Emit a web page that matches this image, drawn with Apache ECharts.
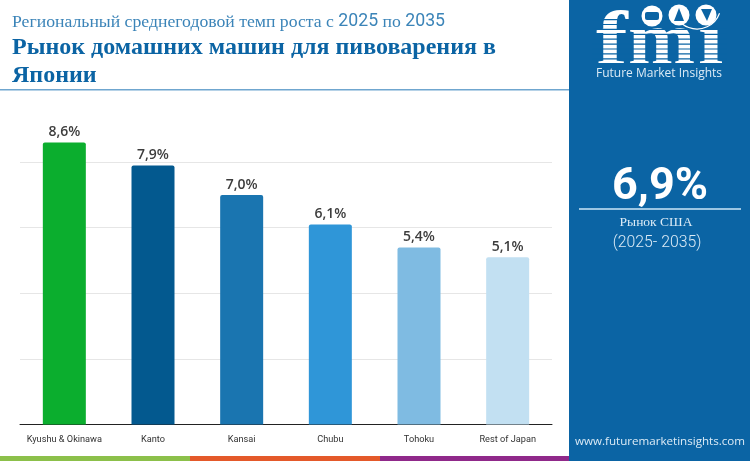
<!DOCTYPE html>
<html><head><meta charset="utf-8">
<style>html,body{margin:0;padding:0;background:#fff}#c{width:750px;height:461px}</style>
<script src="https://cdn.jsdelivr.net/npm/echarts@6/dist/echarts.min.js"></script>
</head><body><div id="c"></div>
<script>
const categories = ['Kyushu & Okinawa','Kanto','Kansai','Chubu','Tohoku','Rest of Japan'];
const values = [8.6,7.9,7.0,6.1,5.4,5.1];
const labels = ['8,6%','7,9%','7,0%','6,1%','5,4%','5,1%'];
const barColors = ['#0bae2e','#03598f','#1a75b0','#2f96d8','#7fbbe2','#c2e0f2'];
const subtitleText = 'Региональный среднегодовой темп роста с {n|2025} по {n|2035}';
const titleText = 'Рынок домашних машин для пивоварения в\nЯпонии';
const kpiValue = '6,9%';
const kpiName = 'Рынок США';
const kpiPeriod = '(2025- 2035)';
const site = 'www.futuremarketinsights.com';
const brand = 'Future Market Insights';

const PANEL = '#0b64a4';
const t = (x,y,text,font,fill,extra) => ({type:'text',x,y,z:20,style:Object.assign({text,font,fill},extra||{})});
const stripes = [];
for (let i=0;i<10;i++) stripes.push({type:'rect',z:22,shape:{x:592,y:19+i*4.9,width:135,height:1.2},style:{fill:PANEL}});
const logoLetter = (x,ch,sx) => ({type:'text',z:20,x,y:6,scaleX:sx,style:{text:ch,font:'bold 76px "Liberation Serif"',fill:'#fff'}});

const chart = echarts.init(document.getElementById('c'),null,{renderer:'canvas'});
chart.setOption({
  animation:false,
  grid:{left:20,right:198,top:96.5,height:328,containLabel:false},
  xAxis:{type:'category',data:categories,
    axisLine:{lineStyle:{color:'#222',width:1}},axisTick:{show:false},
    axisLabel:{interval:0,color:'#333',fontFamily:'Roboto',fontSize:9.2,margin:11}},
  yAxis:{type:'value',min:0,max:10,interval:2,
    axisLine:{show:false},axisTick:{show:false},axisLabel:{show:false},
    splitLine:{show:true,showMaxLine:false,showMinLine:false,lineStyle:{color:'#e6e6e6',width:1}}},
  series:[{type:'bar',barWidth:43,
    data:values.map((v,i)=>({value:v,itemStyle:{color:barColors[i],borderRadius:[2,2,0,0]},
      label:{formatter:labels[i]}})),
    label:{show:true,position:'top',distance:3,color:'#3d3d3d',fontFamily:'Open Sans',fontWeight:600,fontSize:14}}],
  graphic:[
    {type:'rect',z:10,shape:{x:569,y:0,width:181,height:461},style:{fill:PANEL}},
    {type:'rect',z:10,shape:{x:0,y:89,width:569,height:1.6},style:{fill:'#6fa6cf'}},
    {type:'rect',z:10,shape:{x:0,y:456,width:190,height:5},style:{fill:'#8cc04a'}},
    {type:'rect',z:10,shape:{x:190,y:456,width:190,height:5},style:{fill:'#e4592a'}},
    {type:'rect',z:10,shape:{x:380,y:456,width:189,height:5},style:{fill:'#90298a'}},
    {type:'text',z:20,x:12,y:13,style:{text:subtitleText,font:'17.7px "Liberation Serif"',fill:'#3b84b8',
      rich:{n:{fontFamily:'Roboto',fontSize:17.7,fill:'#3b84b8'}}}},
    t(12,34,titleText,'bold 24px "Liberation Serif"','#0b64a4',{lineHeight:28}),
    // logo
    logoLetter(596,'f',1.25),
    logoLetter(628,'m',1.06),
    logoLetter(698,'ı',1.2),
    ...stripes,
    {type:'circle',z:23,shape:{cx:652,cy:16,r:10.5},style:{fill:'#fff'}},
    {type:'circle',z:23,shape:{cx:679,cy:15,r:10.5},style:{fill:'#fff'}},
    {type:'circle',z:23,shape:{cx:706,cy:15,r:10.5},style:{fill:'#fff'}},
    {type:'rect',z:24,shape:{x:645,y:12,width:14,height:8,r:2},style:{fill:PANEL}},
    {type:'polygon',z:24,shape:{points:[[679,8],[684,21],[674,21]]},style:{fill:PANEL}},
    {type:'polygon',z:24,shape:{points:[[701,9],[712,9],[707,21]]},style:{fill:PANEL}},
    {type:'arc',z:24,shape:{cx:697,cy:5,r:24,startAngle:0.35,endAngle:2.25},style:{stroke:'#fff',fill:null,lineWidth:1.2}},
    t(596,68,brand,'12px "Open Sans"','#dcebf6'),
    // KPI
    t(660,165,kpiValue,'bold 45px Roboto','#fff',{align:'center'}),
    {type:'rect',z:20,shape:{x:579,y:208,width:162,height:2},style:{fill:'#9cc6e3'}},
    t(656,215,kpiName,'13.5px "Liberation Serif"','#dcebf6',{align:'center'}),
    t(657,235,kpiPeriod,'300 15.8px Roboto','#dcebf6',{align:'center'}),
    t(575,435.5,site,'11.6px "Open Sans"','#dcebf6')
  ]
});
</script></body></html>
